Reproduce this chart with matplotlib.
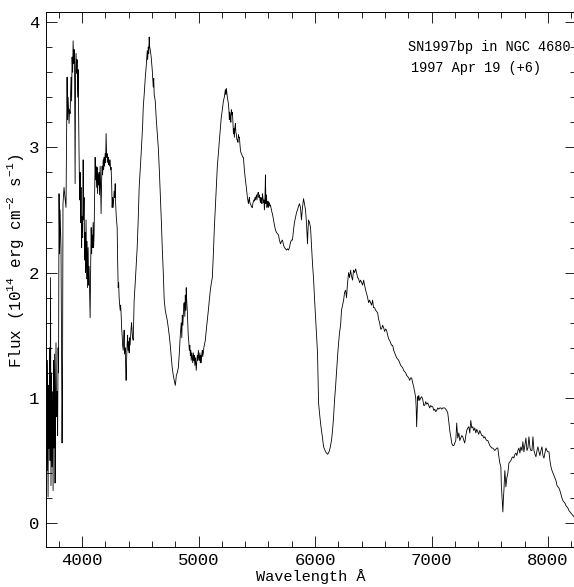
import matplotlib
matplotlib.use("Agg")
import matplotlib.pyplot as plt
from matplotlib.ticker import MultipleLocator

# Spectrum of SN1997bp (wavelength in A, flux in 1e-14 units)
wave = [
    3699, 3703, 3708, 3712, 3716, 3721, 3725, 3729, 3733, 3738, 3742, 3746, 3751, 3755, 3759, 3764,
    3768, 3772, 3776, 3781, 3785, 3790, 3794, 3798, 3802, 3807, 3811, 3819, 3828, 3832, 3836, 3845,
    3853, 3862, 3867, 3871, 3875, 3880, 3888, 3892, 3897, 3905, 3910, 3914, 3919, 3923, 3928, 3932,
    3936, 3940, 3944, 3948, 3953, 3957, 3962, 3966, 3970, 3974, 3979, 3983, 3987, 3991, 3996, 4000,
    4005, 4009, 4013, 4017, 4022, 4026, 4030, 4034, 4039, 4043, 4047, 4052, 4056, 4060, 4065, 4069,
    4073, 4078, 4082, 4086, 4090, 4095, 4099, 4103, 4108, 4112, 4116, 4120, 4125, 4129, 4133, 4138,
    4142, 4146, 4150, 4155, 4159, 4163, 4168, 4172, 4176, 4181, 4185, 4189, 4193, 4198, 4202, 4206,
    4211, 4215, 4220, 4224, 4228, 4232, 4236, 4241, 4245, 4249, 4254, 4258, 4262, 4267, 4271, 4275,
    4280, 4284, 4288, 4293, 4297, 4301, 4305, 4310, 4314, 4318, 4322, 4327, 4331, 4335, 4340, 4344,
    4348, 4353, 4357, 4361, 4365, 4370, 4374, 4378, 4382, 4387, 4391, 4395, 4400, 4404, 4408, 4412,
    4417, 4421, 4425, 4430, 4434, 4439, 4443, 4447, 4455, 4464, 4473, 4481, 4490, 4499, 4507, 4516,
    4520, 4525, 4533, 4542, 4550, 4555, 4559, 4563, 4568, 4572, 4576, 4580, 4585, 4593, 4602, 4611,
    4615, 4619, 4628, 4637, 4645, 4654, 4663, 4671, 4680, 4688, 4697, 4705, 4714, 4722, 4731, 4740,
    4748, 4757, 4765, 4774, 4783, 4791, 4800, 4805, 4809, 4817, 4826, 4834, 4843, 4851, 4856, 4860,
    4865, 4869, 4873, 4877, 4882, 4886, 4890, 4894, 4898, 4903, 4907, 4911, 4916, 4920, 4925, 4929,
    4933, 4937, 4942, 4946, 4950, 4955, 4959, 4963, 4968, 4972, 4976, 4980, 4985, 4989, 4993, 4998,
    5002, 5006, 5011, 5015, 5019, 5023, 5028, 5032, 5036, 5041, 5045, 5049, 5058, 5067, 5075, 5084,
    5092, 5101, 5110, 5118, 5127, 5135, 5144, 5153, 5161, 5170, 5178, 5187, 5195, 5204, 5213, 5221,
    5230, 5234, 5238, 5247, 5256, 5260, 5264, 5268, 5273, 5277, 5281, 5286, 5290, 5295, 5299, 5303,
    5307, 5312, 5316, 5320, 5325, 5329, 5333, 5338, 5342, 5346, 5350, 5355, 5359, 5363, 5367, 5372,
    5376, 5380, 5385, 5393, 5402, 5410, 5419, 5428, 5432, 5436, 5440, 5445, 5449, 5453, 5458, 5462,
    5466, 5471, 5475, 5479, 5484, 5488, 5492, 5497, 5501, 5505, 5510, 5514, 5518, 5522, 5527, 5531,
    5535, 5539, 5544, 5548, 5552, 5557, 5561, 5565, 5570, 5574, 5578, 5583, 5587, 5591, 5596, 5600,
    5604, 5609, 5613, 5617, 5621, 5626, 5630, 5634, 5643, 5651, 5660, 5669, 5677, 5686, 5694, 5703,
    5712, 5720, 5729, 5737, 5746, 5755, 5763, 5772, 5780, 5789, 5797, 5806, 5815, 5823, 5832, 5841,
    5849, 5858, 5866, 5875, 5883, 5892, 5901, 5909, 5918, 5926, 5935, 5940, 5944, 5952, 5961, 5970,
    5978, 5987, 5995, 6004, 6013, 6021, 6030, 6038, 6047, 6055, 6064, 6073, 6081, 6090, 6098, 6107,
    6115, 6124, 6133, 6141, 6150, 6159, 6167, 6176, 6185, 6193, 6202, 6210, 6219, 6227, 6236, 6245,
    6253, 6262, 6270, 6279, 6288, 6296, 6305, 6313, 6322, 6330, 6339, 6348, 6356, 6365, 6374, 6382,
    6391, 6399, 6408, 6417, 6425, 6434, 6443, 6451, 6460, 6468, 6477, 6485, 6494, 6502, 6511, 6520,
    6528, 6537, 6545, 6554, 6563, 6571, 6580, 6589, 6597, 6606, 6614, 6623, 6632, 6640, 6649, 6657,
    6666, 6675, 6683, 6692, 6700, 6709, 6718, 6726, 6735, 6743, 6752, 6760, 6769, 6778, 6786, 6795,
    6804, 6812, 6821, 6829, 6838, 6847, 6852, 6855, 6864, 6868, 6872, 6877, 6881, 6885, 6890, 6898,
    6907, 6915, 6924, 6933, 6941, 6950, 6958, 6967, 6976, 6984, 6993, 7001, 7010, 7019, 7027, 7036,
    7044, 7053, 7062, 7070, 7079, 7088, 7096, 7105, 7113, 7122, 7130, 7139, 7148, 7156, 7165, 7173,
    7182, 7191, 7199, 7208, 7216, 7220, 7225, 7234, 7242, 7251, 7259, 7268, 7277, 7285, 7294, 7302,
    7311, 7320, 7328, 7337, 7345, 7354, 7362, 7371, 7380, 7388, 7397, 7405, 7414, 7423, 7431, 7440,
    7448, 7457, 7466, 7474, 7483, 7491, 7500, 7509, 7517, 7526, 7535, 7543, 7552, 7560, 7569, 7578,
    7586, 7595, 7599, 7603, 7608, 7612, 7617, 7621, 7625, 7629, 7634, 7638, 7646, 7655, 7664, 7672,
    7681, 7689, 7698, 7707, 7715, 7724, 7732, 7741, 7750, 7758, 7767, 7776, 7784, 7793, 7801, 7810,
    7819, 7827, 7836, 7845, 7853, 7862, 7870, 7879, 7888, 7896, 7905, 7913, 7922, 7930, 7939, 7948,
    7956, 7965, 7973, 7982, 7990, 7999, 8008, 8016, 8025, 8034, 8042, 8051, 8060, 8068, 8077, 8085,
    8094, 8102, 8111, 8120, 8128, 8137, 8145, 8154, 8163, 8171, 8180, 8189, 8197, 8206, 8215, 8223,
    8232,
]
flux = [
    0.42, 1.30, 0.21, 1.10, 0.60, 1.40, 0.50, 1.96, 0.30, 1.20, 0.45, 1.05, 0.26, 1.30, 0.60, 1.35,
    0.32, 0.98, 1.44, 0.85, 1.05, 0.70, 1.40, 1.20, 2.63, 2.15, 2.50, 2.20, 0.64, 1.08, 2.55, 2.68,
    2.60, 2.52, 3.10, 3.56, 3.22, 3.40, 3.19, 3.30, 3.27, 3.56, 3.37, 3.72, 3.60, 3.85, 3.67, 3.78,
    3.55, 2.71, 3.60, 3.75, 3.59, 3.70, 3.40, 3.62, 3.25, 2.95, 2.58, 2.80, 2.40, 2.68, 2.20, 2.45,
    2.28, 2.90, 2.42, 2.60, 2.10, 2.32, 2.00, 2.42, 1.95, 2.25, 1.88, 2.20, 1.90, 2.05, 1.80, 1.64,
    2.00, 2.36, 2.15, 2.30, 2.20, 2.40, 2.20, 2.30, 2.65, 2.92, 2.74, 2.85, 2.68, 2.84, 2.63, 2.78,
    2.70, 2.80, 2.62, 2.85, 2.70, 2.47, 2.75, 2.85, 2.78, 2.90, 2.82, 2.92, 2.85, 2.95, 2.88, 3.11,
    2.92, 2.95, 2.88, 2.92, 2.86, 2.90, 2.85, 2.90, 2.82, 2.84, 2.70, 2.52, 2.60, 2.52, 2.58, 2.65,
    2.60, 2.71, 2.55, 2.45, 2.40, 2.36, 2.10, 1.88, 1.92, 1.80, 1.75, 1.70, 1.74, 1.67, 1.55, 1.50,
    1.42, 1.38, 1.45, 1.54, 1.35, 1.40, 1.25, 1.14, 1.30, 1.44, 1.50, 1.38, 1.45, 1.36, 1.48, 1.42,
    1.50, 1.56, 1.60, 1.52, 1.48, 1.46, 1.62, 1.78, 1.90, 2.05, 2.20, 2.40, 2.68, 2.82, 2.95, 3.11,
    3.18, 3.32, 3.42, 3.55, 3.64, 3.72, 3.77, 3.70, 3.80, 3.75, 3.88, 3.80, 3.78, 3.72, 3.62, 3.48,
    3.55, 3.42, 3.37, 3.22, 3.12, 3.00, 2.82, 2.63, 2.42, 2.20, 2.00, 1.78, 1.70, 1.66, 1.62, 1.56,
    1.50, 1.42, 1.33, 1.24, 1.18, 1.14, 1.10, 1.14, 1.18, 1.20, 1.24, 1.35, 1.50, 1.60, 1.48, 1.66,
    1.58, 1.67, 1.75, 1.76, 1.65, 1.82, 1.70, 1.88, 1.78, 1.70, 1.60, 1.50, 1.45, 1.38, 1.42, 1.34,
    1.38, 1.30, 1.36, 1.32, 1.28, 1.36, 1.30, 1.34, 1.26, 1.32, 1.28, 1.22, 1.30, 1.34, 1.30, 1.38,
    1.32, 1.30, 1.36, 1.28, 1.34, 1.28, 1.35, 1.38, 1.33, 1.36, 1.40, 1.42, 1.46, 1.55, 1.62, 1.70,
    1.78, 1.86, 1.92, 1.96, 2.15, 2.35, 2.52, 2.70, 2.85, 2.95, 3.05, 3.15, 3.24, 3.30, 3.37, 3.40,
    3.46, 3.42, 3.47, 3.40, 3.35, 3.30, 3.22, 3.28, 3.24, 3.20, 3.30, 3.26, 3.28, 3.20, 3.11, 3.15,
    3.08, 3.16, 3.19, 3.12, 3.10, 3.06, 3.06, 3.04, 3.10, 3.08, 3.08, 3.02, 2.98, 2.96, 2.95, 2.94,
    2.93, 2.92, 2.92, 2.82, 2.74, 2.68, 2.60, 2.55, 2.58, 2.60, 2.56, 2.55, 2.54, 2.53, 2.52, 2.52,
    2.55, 2.57, 2.58, 2.57, 2.60, 2.58, 2.60, 2.62, 2.58, 2.62, 2.64, 2.64, 2.60, 2.62, 2.58, 2.56,
    2.60, 2.58, 2.55, 2.63, 2.60, 2.56, 2.58, 2.50, 2.60, 2.78, 2.55, 2.62, 2.52, 2.55, 2.57, 2.52,
    2.56, 2.55, 2.53, 2.54, 2.52, 2.50, 2.48, 2.47, 2.42, 2.38, 2.34, 2.32, 2.31, 2.30, 2.26, 2.23,
    2.25, 2.26, 2.22, 2.20, 2.19, 2.18, 2.19, 2.18, 2.20, 2.24, 2.26, 2.26, 2.34, 2.40, 2.44, 2.48,
    2.50, 2.53, 2.55, 2.52, 2.42, 2.52, 2.59, 2.55, 2.50, 2.40, 2.23, 2.35, 2.42, 2.40, 2.36, 2.20,
    2.07, 1.95, 1.80, 1.65, 1.50, 1.36, 0.96, 0.88, 0.80, 0.74, 0.68, 0.61, 0.59, 0.57, 0.56, 0.55,
    0.56, 0.58, 0.62, 0.66, 0.74, 0.85, 0.98, 1.09, 1.22, 1.33, 1.44, 1.52, 1.58, 1.70, 1.74, 1.78,
    1.84, 1.86, 1.80, 1.92, 2.00, 1.96, 2.02, 1.97, 1.94, 2.02, 2.00, 2.03, 2.00, 1.96, 1.95, 1.92,
    1.94, 1.92, 1.90, 1.94, 1.90, 1.86, 1.83, 1.80, 1.76, 1.78, 1.76, 1.74, 1.78, 1.72, 1.72, 1.70,
    1.69, 1.68, 1.63, 1.60, 1.55, 1.55, 1.58, 1.56, 1.53, 1.55, 1.54, 1.50, 1.47, 1.46, 1.44, 1.42,
    1.42, 1.38, 1.36, 1.34, 1.32, 1.31, 1.30, 1.28, 1.26, 1.25, 1.24, 1.22, 1.21, 1.20, 1.18, 1.17,
    1.16, 1.14, 1.16, 1.16, 1.12, 1.09, 1.06, 1.05, 1.00, 0.92, 0.77, 0.90, 1.01, 0.98, 1.02, 0.98,
    1.00, 1.01, 0.99, 0.94, 0.94, 0.97, 0.95, 0.96, 0.94, 0.92, 0.94, 0.93, 0.93, 0.90, 0.91, 0.89,
    0.90, 0.92, 0.91, 0.92, 0.92, 0.91, 0.92, 0.92, 0.92, 0.91, 0.90, 0.88, 0.81, 0.74, 0.69, 0.64,
    0.62, 0.62, 0.64, 0.66, 0.80, 0.74, 0.68, 0.72, 0.66, 0.68, 0.70, 0.69, 0.66, 0.64, 0.70, 0.74,
    0.76, 0.77, 0.72, 0.82, 0.76, 0.77, 0.74, 0.76, 0.72, 0.75, 0.73, 0.71, 0.74, 0.72, 0.70, 0.70,
    0.68, 0.69, 0.67, 0.66, 0.66, 0.64, 0.62, 0.61, 0.60, 0.60, 0.59, 0.58, 0.59, 0.60, 0.60, 0.53,
    0.48, 0.45, 0.30, 0.24, 0.15, 0.09, 0.20, 0.26, 0.35, 0.42, 0.36, 0.29, 0.36, 0.40, 0.48, 0.49,
    0.50, 0.52, 0.53, 0.52, 0.55, 0.56, 0.54, 0.58, 0.60, 0.56, 0.61, 0.58, 0.65, 0.57, 0.62, 0.68,
    0.58, 0.60, 0.69, 0.60, 0.58, 0.58, 0.69, 0.58, 0.55, 0.53, 0.58, 0.61, 0.57, 0.54, 0.58, 0.61,
    0.54, 0.52, 0.56, 0.60, 0.58, 0.57, 0.57, 0.50, 0.45, 0.42, 0.40, 0.38, 0.36, 0.34, 0.30, 0.29,
    0.28, 0.26, 0.23, 0.20, 0.18, 0.17, 0.16, 0.14, 0.13, 0.12, 0.10, 0.09, 0.08, 0.07, 0.06, 0.05,
    0.05,
]

x_ticks = [4000, 5000, 6000, 7000, 8000]
y_ticks = [0, 1, 2, 3, 4]
title_lines = ["SN1997bp in NGC 4680", "1997 Apr 19 (+6)"]

plt.rcParams["font.family"] = ["Liberation Mono", "DejaVu Sans Mono"]
plt.rcParams["mathtext.default"] = "regular"

fig = plt.figure(figsize=(5.74, 5.87), dpi=100)
ax = fig.add_axes([0.0801, 0.0681, 0.9234, 0.9115])

ax.plot(wave, flux, color="black", lw=0.6)

ax.set_xlim(3690, 8240)
ax.set_ylim(-0.19, 4.08)
ax.set_xticks(x_ticks)
ax.set_yticks(y_ticks)
ax.xaxis.set_minor_locator(MultipleLocator(200))
ax.yaxis.set_minor_locator(MultipleLocator(0.2))
ax.tick_params(which="both", direction="in", top=True, right=True, width=0.6, labelsize=12.5)
ax.tick_params(which="major", length=8)
ax.tick_params(which="minor", length=4)
ax.tick_params(axis="x", pad=4)
ax.tick_params(axis="y", pad=5)
for s in ax.spines.values():
    s.set_linewidth(0.7)

ax.set_xlabel("Wavelength Å", fontsize=11, labelpad=1)
ax.set_ylabel("Flux (10$^{14}$ erg cm$^{-2}$ s$^{-1}$)", fontsize=11.5)
ax.yaxis.set_label_coords(-0.038, 0.535)

ax.text(6800, 3.77, title_lines[0], fontsize=9.8, va="baseline", ha="left")
ax.text(6820, 3.60, title_lines[1], fontsize=9.8, va="baseline", ha="left")

fig.savefig("out.png", dpi=100)
